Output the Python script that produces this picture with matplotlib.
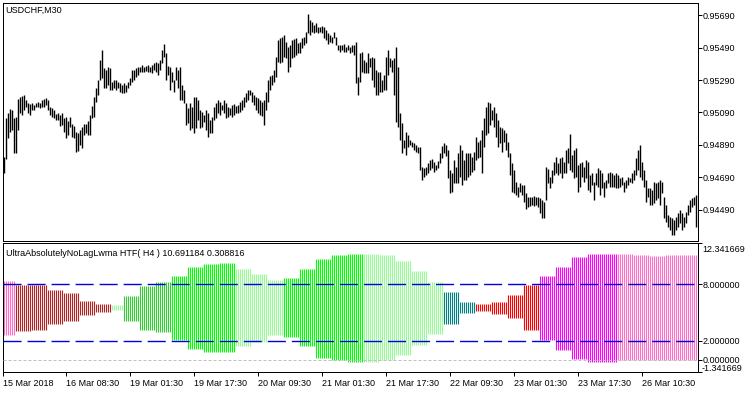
import numpy as np
import matplotlib.pyplot as plt

plt.rcParams['font.family'] = ['Liberation Sans', 'DejaVu Sans']

symbol_title = "USDCHF,M30"
ind_title = "UltraAbsolutelyNoLagLwma HTF( H4 ) 10.691184 0.308816"

# M30 bars, high / low
highs = [
    0.94816, 0.95056, 0.95087, 0.95111, 0.95105, 0.95056, 0.95062, 0.95173, 0.95185, 0.95191,
    0.95197, 0.95167, 0.95148, 0.95142, 0.95148, 0.95136, 0.95148, 0.95154, 0.95148, 0.95167,
    0.95173, 0.95179, 0.95167, 0.95123, 0.95117, 0.95105, 0.95080, 0.95087, 0.95074, 0.95087,
    0.95056, 0.95062, 0.95037, 0.95062, 0.95019, 0.95007, 0.94970, 0.94963, 0.94982, 0.95000,
    0.95019, 0.95019, 0.95037, 0.95074, 0.95130, 0.95185, 0.95240, 0.95290, 0.95413, 0.95474,
    0.95363, 0.95351, 0.95370, 0.95363, 0.95277, 0.95290, 0.95290, 0.95277, 0.95271, 0.95259,
    0.95271, 0.95259, 0.95277, 0.95302, 0.95351, 0.95351, 0.95363, 0.95370, 0.95370, 0.95382,
    0.95370, 0.95376, 0.95382, 0.95370, 0.95382, 0.95394, 0.95400, 0.95394, 0.95413, 0.95474,
    0.95511, 0.95456, 0.95376, 0.95370, 0.95339, 0.95290, 0.95370, 0.95351, 0.95370, 0.95259,
    0.95228, 0.95148, 0.95117, 0.95148, 0.95123, 0.95185, 0.95185, 0.95167, 0.95105, 0.95093,
    0.95074, 0.95105, 0.95087, 0.95043, 0.95062, 0.95123, 0.95148, 0.95167, 0.95154, 0.95136,
    0.95167, 0.95148, 0.95123, 0.95117, 0.95136, 0.95142, 0.95130, 0.95136, 0.95154, 0.95167,
    0.95185, 0.95210, 0.95228, 0.95228, 0.95216, 0.95197, 0.95185, 0.95179, 0.95167, 0.95154,
    0.95167, 0.95216, 0.95290, 0.95314, 0.95320, 0.95351, 0.95431, 0.95536, 0.95548, 0.95554,
    0.95567, 0.95523, 0.95493, 0.95505, 0.95536, 0.95542, 0.95548, 0.95517, 0.95523, 0.95548,
    0.95554, 0.95585, 0.95696, 0.95659, 0.95647, 0.95628, 0.95640, 0.95616, 0.95616, 0.95622,
    0.95616, 0.95597, 0.95579, 0.95567, 0.95554, 0.95585, 0.95554, 0.95505, 0.95505, 0.95505,
    0.95511, 0.95493, 0.95505, 0.95493, 0.95505, 0.95505, 0.95523, 0.95308, 0.95456, 0.95462,
    0.95413, 0.95400, 0.95456, 0.95425, 0.95431, 0.95425, 0.95351, 0.95339, 0.95339, 0.95290,
    0.95320, 0.95431, 0.95474, 0.95425, 0.95413, 0.95425, 0.95493, 0.95370, 0.95087, 0.95025,
    0.94920, 0.94970, 0.94951, 0.94920, 0.94908, 0.94902, 0.94890, 0.94877, 0.94877, 0.94754,
    0.94748, 0.94754, 0.94779, 0.94797, 0.94803, 0.94785, 0.94767, 0.94791, 0.94840, 0.94883,
    0.94902, 0.94890, 0.94859, 0.94736, 0.94717, 0.94797, 0.94754, 0.94840, 0.94890, 0.94859,
    0.94797, 0.94840, 0.94840, 0.94840, 0.94816, 0.94847, 0.94939, 0.94908, 0.94920, 0.94982,
    0.95056, 0.95123, 0.95154, 0.95148, 0.95105, 0.95123, 0.95087, 0.95043, 0.95000, 0.94994,
    0.94982, 0.94963, 0.94908, 0.94840, 0.94779, 0.94736, 0.94662, 0.94631, 0.94656, 0.94643,
    0.94643, 0.94594, 0.94570, 0.94570, 0.94570, 0.94576, 0.94570, 0.94570, 0.94563, 0.94551,
    0.94539, 0.94754, 0.94742, 0.94693, 0.94736, 0.94785, 0.94816, 0.94779, 0.94810, 0.94816,
    0.94785, 0.94859, 0.94871, 0.94957, 0.94828, 0.94859, 0.94871, 0.94767, 0.94779, 0.94785,
    0.94754, 0.94797, 0.94785, 0.94705, 0.94717, 0.94662, 0.94717, 0.94748, 0.94736, 0.94717,
    0.94662, 0.94674, 0.94717, 0.94723, 0.94717, 0.94705, 0.94717, 0.94705, 0.94687, 0.94693,
    0.94662, 0.94674, 0.94693, 0.94687, 0.94717, 0.94736, 0.94810, 0.94859, 0.94890, 0.94785,
    0.94736, 0.94674, 0.94625, 0.94625, 0.94613, 0.94662, 0.94656, 0.94662, 0.94674, 0.94662,
    0.94570, 0.94520, 0.94459, 0.94447, 0.94440, 0.94428, 0.94447, 0.94471, 0.94490, 0.94471,
    0.94447, 0.94477, 0.94520, 0.94551, 0.94563, 0.94570, 0.94582,
]
lows = [
    0.94717, 0.94803, 0.94933, 0.94970, 0.94982, 0.94840, 0.94840, 0.94982, 0.95087, 0.95074,
    0.95105, 0.95123, 0.95087, 0.95074, 0.95105, 0.95105, 0.95123, 0.95123, 0.95117, 0.95123,
    0.95123, 0.95136, 0.95105, 0.95074, 0.95062, 0.95056, 0.95043, 0.95043, 0.95007, 0.95013,
    0.94970, 0.94933, 0.94951, 0.95000, 0.94939, 0.94933, 0.94847, 0.94853, 0.94890, 0.94871,
    0.94951, 0.94963, 0.94951, 0.94951, 0.95056, 0.95062, 0.95154, 0.95197, 0.95290, 0.95302,
    0.95240, 0.95240, 0.95259, 0.95228, 0.95228, 0.95240, 0.95228, 0.95240, 0.95216, 0.95210,
    0.95210, 0.95216, 0.95240, 0.95259, 0.95277, 0.95290, 0.95308, 0.95320, 0.95339, 0.95339,
    0.95339, 0.95345, 0.95339, 0.95339, 0.95333, 0.95351, 0.95339, 0.95320, 0.95351, 0.95394,
    0.95431, 0.95290, 0.95320, 0.95228, 0.95277, 0.95216, 0.95290, 0.95240, 0.95167, 0.95167,
    0.95148, 0.95013, 0.95025, 0.94982, 0.94994, 0.94963, 0.94994, 0.95043, 0.94994, 0.95000,
    0.95031, 0.94982, 0.94939, 0.94963, 0.94963, 0.95043, 0.95056, 0.95087, 0.95074, 0.95105,
    0.95087, 0.95056, 0.95062, 0.95074, 0.95062, 0.95074, 0.95087, 0.95087, 0.95093, 0.95105,
    0.95123, 0.95154, 0.95167, 0.95197, 0.95154, 0.95136, 0.95105, 0.95087, 0.95074, 0.95068,
    0.95013, 0.95105, 0.95154, 0.95228, 0.95259, 0.95277, 0.95308, 0.95400, 0.95394, 0.95400,
    0.95431, 0.95425, 0.95339, 0.95370, 0.95425, 0.95431, 0.95443, 0.95456, 0.95456, 0.95487,
    0.95505, 0.95517, 0.95579, 0.95567, 0.95585, 0.95579, 0.95585, 0.95579, 0.95585, 0.95579,
    0.95548, 0.95536, 0.95511, 0.95523, 0.95517, 0.95548, 0.95505, 0.95474, 0.95462, 0.95474,
    0.95462, 0.95462, 0.95474, 0.95456, 0.95462, 0.95443, 0.95271, 0.95197, 0.95277, 0.95339,
    0.95333, 0.95333, 0.95333, 0.95370, 0.95290, 0.95247, 0.95197, 0.95197, 0.95216, 0.95216,
    0.95228, 0.95228, 0.95320, 0.95370, 0.95339, 0.95197, 0.95031, 0.95000, 0.94920, 0.94840,
    0.94871, 0.94828, 0.94877, 0.94890, 0.94877, 0.94859, 0.94847, 0.94840, 0.94736, 0.94674,
    0.94693, 0.94705, 0.94717, 0.94736, 0.94748, 0.94723, 0.94736, 0.94748, 0.94779, 0.94810,
    0.94840, 0.94822, 0.94687, 0.94594, 0.94600, 0.94656, 0.94656, 0.94656, 0.94693, 0.94643,
    0.94674, 0.94674, 0.94693, 0.94705, 0.94723, 0.94736, 0.94797, 0.94810, 0.94816, 0.94717,
    0.94877, 0.94951, 0.94963, 0.95013, 0.95043, 0.95000, 0.94939, 0.94877, 0.94902, 0.94847,
    0.94908, 0.94859, 0.94816, 0.94705, 0.94600, 0.94594, 0.94582, 0.94570, 0.94600, 0.94582,
    0.94539, 0.94496, 0.94508, 0.94514, 0.94520, 0.94514, 0.94520, 0.94508, 0.94471, 0.94440,
    0.94440, 0.94551, 0.94656, 0.94625, 0.94656, 0.94705, 0.94717, 0.94705, 0.94717, 0.94687,
    0.94717, 0.94717, 0.94779, 0.94736, 0.94723, 0.94687, 0.94693, 0.94600, 0.94631, 0.94693,
    0.94662, 0.94687, 0.94613, 0.94600, 0.94643, 0.94551, 0.94643, 0.94631, 0.94582, 0.94625,
    0.94570, 0.94625, 0.94656, 0.94631, 0.94631, 0.94631, 0.94625, 0.94625, 0.94631, 0.94643,
    0.94600, 0.94625, 0.94643, 0.94662, 0.94656, 0.94674, 0.94705, 0.94736, 0.94693, 0.94674,
    0.94631, 0.94539, 0.94570, 0.94520, 0.94520, 0.94533, 0.94551, 0.94563, 0.94520, 0.94594,
    0.94440, 0.94416, 0.94385, 0.94367, 0.94336, 0.94336, 0.94367, 0.94385, 0.94410, 0.94367,
    0.94385, 0.94410, 0.94459, 0.94477, 0.94508, 0.94520, 0.94385,
]

# indicator: one entry per H4 block (number of M30 bars, upper, lower, colour)
blk_bars = [6, 8, 8, 8, 8, 8, 8, 6] + [8] * 29 + [7] + [8] * 6
blk_upper = [8.33, 7.93, 7.93, 7.36, 7.04, 6.18, 5.86, 5.75, 6.72, 7.82,
             8.25, 8.89, 9.83, 10.15, 10.25, 9.61, 9.11, 8.43, 8.65, 9.61,
             10.68, 11.14, 11.22, 11.22, 11.11, 10.44, 9.40, 8.25, 7.18, 6.11,
             5.86, 6.11, 6.83, 7.93, 8.89, 9.86, 10.93, 11.19, 11.25, 11.25,
             11.14, 11.04, 11.14, 11.14]
blk_lower = [2.65, 3.00, 3.11, 3.79, 4.07, 4.71, 5.04, 5.25, 4.15, 3.11,
             2.89, 2.11, 1.15, 0.86, 0.86, 1.47, 1.82, 2.65, 2.43, 1.50,
             0.18, -0.03, -0.25, -0.25, -0.03, 0.50, 1.58, 2.75, 3.83, 4.90,
             5.11, 4.82, 4.39, 3.18, 2.11, 1.04, 0.07, -0.25, -0.25, -0.03,
             -0.03, -0.03, -0.03, -0.03]
blk_color = ['#FF6EC7'] + ['#B22222'] * 6 + ['#98FB98'] + ['#32CD32'] * 3 + \
            ['#00FF00'] * 4 + ['#98FB98'] * 3 + ['#00FF00'] * 5 + ['#98FB98'] * 5 + \
            ['#008080'] * 2 + ['#FF0000'] * 4 + ['#FF00FF'] * 5 + ['#FF6EC7'] * 5

levels = [8.0, 2.0]
ind_min, ind_max = -1.341669, 12.341669

price_ticks = [0.95690, 0.95490, 0.95290, 0.95090, 0.94890, 0.94690, 0.94490]
time_labels = ['15 Mar 2018', '16 Mar 08:30', '19 Mar 01:30', '19 Mar 17:30',
               '20 Mar 09:30', '21 Mar 01:30', '21 Mar 17:30', '22 Mar 09:30',
               '23 Mar 01:30', '23 Mar 17:30', '26 Mar 10:30']
time_pos = [-0.5, 31, 63, 95, 127, 159, 191, 223, 255, 287, 319]

W, H = 750, 394
fs = 6.5
px = 0.72  # one pixel in points

fig = plt.figure(figsize=(W / 100, H / 100), dpi=100)
fig.patch.set_facecolor('white')
ax1 = fig.add_axes([3 / W, 1 - 240.5 / H, 694.5 / W, 237.5 / H])
ax2 = fig.add_axes([3 / W, 1 - 372.3 / H, 694.5 / W, 129.0 / H])

n = len(highs)
x = np.arange(n)
xlim = (-0.5, n - 0.25)

# price bars
ax1.vlines(x, lows, highs, color='black', lw=1.0)
ax1.set_xlim(*xlim)
ax1.set_ylim(0.94302, 0.95764)
ax1.set_xticks([])
ax1.yaxis.tick_right()
ax1.set_yticks(price_ticks)
ax1.set_yticklabels([f'{v:.5f}' for v in price_ticks])
ax1.tick_params(axis='y', direction='out', length=3, width=px, labelsize=fs, pad=1)

# indicator histogram
upper = np.repeat(blk_upper, blk_bars)
lower = np.repeat(blk_lower, blk_bars)
cols = np.repeat(blk_color, blk_bars)
ax2.vlines(x, lower, upper, colors=cols, lw=0.8)
ax2.axhline(0, color='#C0C0C0', lw=px, dashes=(3, 2), zorder=3)
for lv in levels:
    ax2.axhline(lv, color='#0000E0', lw=1.0, dashes=(13, 4.3), zorder=4)
ax2.set_xlim(*xlim)
ax2.set_ylim(ind_min, ind_max)
ax2.yaxis.tick_right()
yt = [ind_max, 8.0, 2.0, 0.0, ind_min]
ax2.set_yticks(yt)
ax2.set_yticklabels(['', '8.000000', '2.000000', '0.000000', ''])
ax2.tick_params(axis='y', direction='out', length=3, width=px, labelsize=fs, pad=1)
# end-of-scale labels sit inside the pane, as in the terminal
fig.text(702 / W, 1 - 249.5 / H, f'{ind_max:.6f}', fontsize=fs, va='center', ha='left')
fig.text(702 / W, 1 - 368.5 / H, f'{ind_min:.6f}', fontsize=fs, va='center', ha='left')

ax2.set_xticks(time_pos)
ax2.set_xticklabels(time_labels, ha='left')
ax2.tick_params(axis='x', direction='out', length=3, width=px, labelsize=fs, pad=1.5)

for ax in (ax1, ax2):
    for s in ax.spines.values():
        s.set_linewidth(px)
        s.set_color('black')

fig.text(5 / W, 1 - 10 / H, symbol_title, fontsize=fs, va='center', ha='left')
fig.text(6 / W, 1 - 253 / H, ind_title, fontsize=fs, va='center', ha='left')

fig.savefig('out.png', dpi=100, facecolor='white')
